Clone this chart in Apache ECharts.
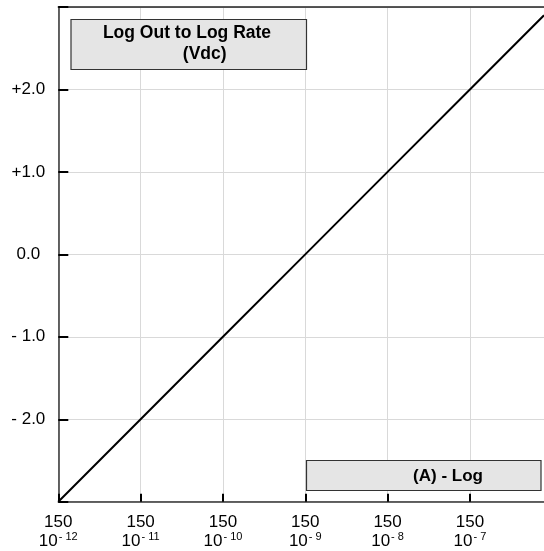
<!DOCTYPE html>
<html>
<head>
<meta charset="utf-8">
<script src="https://cdn.jsdelivr.net/npm/echarts@6/dist/echarts.min.js"></script>
<style>
html,body{margin:0;padding:0;background:#fff;}
#chart{width:544px;height:551px;}
</style>
</head>
<body>
<div id="chart"></div>
<script>
// ---- data (x: log10 of current in A, y: log output in Vdc) ----
const logCurrent = [-12, -11, -10, -9, -8, -7, -6.1];
const logOutVdc = [-3, -2, -1, 0, 1, 2, 2.9];
// ---- tick labels ----
const decadeExponents = [-12, -11, -10, -9, -8, -7];
const tickMantissa = '150';
const yTickValues = [-2, -1, 0, 1, 2];
const yTickLabels = ['- 2.0', '- 1.0', '0.0', '+1.0', '+2.0'];
// ---- annotation texts ----
const titleLines = ['Log Out to Log Rate', '(Vdc)'];
const unitLabel = '(A) - Log';

const FONT = '"Liberation Sans", Arial, Helvetica, sans-serif';
const chart = echarts.init(document.getElementById('chart'), null, {renderer: 'canvas'});

const option = {
  backgroundColor: '#ffffff',
  animation: false,
  grid: {left: 58.3, right: 0, top: 7, bottom: 49.3, containLabel: false},
  xAxis: [{
    type: 'value',
    min: -12, max: -6.1, interval: 1,
    axisLine: {show: true, onZero: false, lineStyle: {color: '#333', width: 1.5}},
    axisTick: {show: true, inside: true, length: 8, lineStyle: {color: '#000', width: 2}},
    splitLine: {show: true, lineStyle: {color: '#d9d9d9', width: 1}},
    axisLabel: {
      showMaxLabel: false,
      margin: 11,
      formatter: function (v) {
        const i = decadeExponents.indexOf(v);
        if (i < 0) return '';
        return '{a|' + tickMantissa + '}\n{b|10}{s|- ' + (-decadeExponents[i]) + '}';
      },
      rich: {
        a: {fontSize: 17, lineHeight: 19, fontFamily: FONT, color: '#000'},
        b: {fontSize: 17, lineHeight: 19, fontFamily: FONT, color: '#000'},
        s: {fontSize: 11, lineHeight: 11, fontFamily: FONT, color: '#000', verticalAlign: 'top', padding: [0, 0, 0, 1]}
      }
    }
  }, {
    type: 'value', position: 'top',
    min: -12, max: -6.1, interval: 1,
    axisLine: {show: true, onZero: false, lineStyle: {color: '#222', width: 1.5}},
    axisTick: {show: false}, axisLabel: {show: false}, splitLine: {show: false}
  }],
  yAxis: {
    type: 'value',
    min: -3, max: 3, interval: 1,
    axisLine: {show: true, onZero: false, lineStyle: {color: '#333', width: 1.5}},
    axisTick: {show: true, inside: true, length: 10, lineStyle: {color: '#000', width: 2}},
    splitLine: {show: true, lineStyle: {color: '#d9d9d9', width: 1}},
    axisLabel: {
      align: 'center',
      margin: 30,
      fontSize: 17, fontFamily: FONT, color: '#000',
      formatter: function (v) {
        const i = yTickValues.indexOf(v);
        return i < 0 ? '' : yTickLabels[i];
      }
    }
  },
  series: [{
    type: 'line',
    xAxisIndex: 0,
    data: logCurrent.map((x, i) => [x, logOutVdc[i]]),
    showSymbol: false,
    lineStyle: {color: '#000', width: 2},
    clip: true,
    z: 3
  }],
  graphic: [
    {type: 'rect', z: 100, shape: {x: 71, y: 19.5, width: 235.5, height: 50},
     style: {fill: '#e5e5e5', stroke: '#333', lineWidth: 1.2}},
    {type: 'text', z: 101, style: {text: titleLines[0], x: 187, y: 33.5, fill: '#000',
      font: 'bold 17.5px ' + FONT, textAlign: 'center', textVerticalAlign: 'middle', align: 'center', verticalAlign: 'middle'}},
    {type: 'text', z: 101, style: {text: titleLines[1], x: 204.7, y: 54.5, fill: '#000',
      font: 'bold 17.5px ' + FONT, textAlign: 'center', textVerticalAlign: 'middle', align: 'center', verticalAlign: 'middle'}},
    {type: 'rect', z: 100, shape: {x: 306.5, y: 460.5, width: 234.5, height: 30},
     style: {fill: '#e5e5e5', stroke: '#333', lineWidth: 1.2}},
    {type: 'text', z: 101, style: {text: unitLabel, x: 448, y: 476, fill: '#000',
      font: 'bold 17px ' + FONT, textAlign: 'center', textVerticalAlign: 'middle', align: 'center', verticalAlign: 'middle'}}
  ]
};
chart.setOption(option);
</script>
</body>
</html>
